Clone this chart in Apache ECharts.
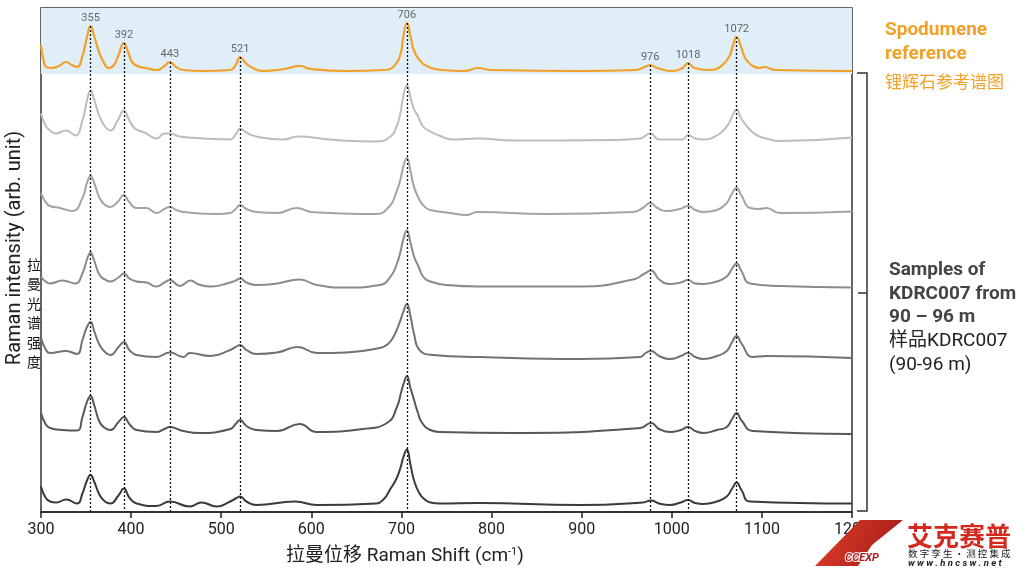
<!DOCTYPE html>
<html><head><meta charset="utf-8">
<script src="https://cdn.jsdelivr.net/npm/echarts@6/dist/echarts.min.js"></script>
<style>html,body{margin:0;padding:0;background:#fff}#c{width:1024px;height:576px}</style>
</head><body><div id="c"></div>
<script>
// ---- data (Raman shift in cm-1, intensity in arb. units above each trace's own baseline) ----
const xTicks = [300, 400, 500, 600, 700, 800, 900, 1000, 1100, 1200];
const peakShifts = [355, 392, 443, 521, 706, 976, 1018, 1072];

const referenceSpectrum = [
[300,26],[303,10],[306,4],[312,3],[320,5],[328,9],[334,6],[340,4],[346,15],[351,34],[355,45],[359,35],[364,20],[370,8],[375,3],[381,6],[386,16],[392,28],[397,18],[402,8],[410,4],[417,3],[428,1],[437,5],[443,9],[450,4],[458,1],[480,0],[510,1],[516,6],[521,14],[527,8],[535,3],[547,0],[570,2],[587,5],[600,2],[640,0],[680,1],[692,5],[699,17],[702,34],[706,48],[710,35],[714,20],[720,11],[728,5],[745,1],[770,0],[785,3],[800,1],[900,0],[960,1],[970,4],[976,6],[984,3],[1001,0],[1012,3],[1018,8],[1025,3],[1042,1],[1055,5],[1064,15],[1068,26],[1072,34],[1077,24],[1082,12],[1090,5],[1097,3],[1103,4],[1115,1],[1200,0]
];
const sample1 = [
[300,26],[305,14],[310,9],[316,6],[328,9],[338,4],[346,19],[351,39],[355,49],[359,40],[365,23],[371,13],[377,9],[385,19],[392,29],[397,21],[403,12],[408,9],[415,7],[428,1],[437,6],[443,6],[454,3],[480,1],[510,0],[516,5],[521,11],[528,7],[539,3],[569,0],[585,3],[620,0],[672,-2],[688,3],[695,14],[699,27],[702,43],[706,54],[710,42],[714,30],[718,24],[724,13],[732,8],[742,4],[757,0],[785,1],[824,-1],[935,-0.5],[965,1],[976,6],[986,0],[1012,0],[1018,4.5],[1026,1],[1035,0],[1050,4],[1061,13],[1067,23],[1072,30],[1077,21],[1087,9.5],[1095,4],[1105,1],[1120,-1.5],[1200,2]
];
const sample2 = [
[300,20],[305,11],[310,7],[321,5],[335,2],[346,15],[351,30],[355,37],[359,30],[365,15],[371,8],[377,6],[385,11],[392,18],[397,12],[406,5],[417,5],[428,0],[437,4],[443,6],[450,3],[458,1],[495,-1],[510,0],[516,4],[521,8],[528,4],[539,1],[562,0],[584,5],[600,1],[620,0],[672,-1],[687,7],[694,20],[699,34],[702,46],[706,55],[710,42],[714,26],[720,13],[726,6],[732,3],[754,0],[772,-2],[784,1],[861,-1],[957,1],[968,5],[976,10],[984,5],[994,2],[1009,4],[1018,7],[1026,3],[1035,1],[1050,3],[1061,10],[1066,18],[1072,25],[1077,18],[1087,5],[1097,4],[1105,5],[1120,0],[1200,1.5]
];
const sample3 = [
[300,10],[305,5],[310,3],[324,6],[338,3],[346,13],[351,27],[355,34],[359,26],[365,11.5],[371,7],[377,5],[386,9],[392,13],[398,8],[406,5],[417,4],[428,0],[437,4],[443,6.5],[454,0.5],[466,6],[475,2],[488,0],[510,4],[516,6],[521,8],[528,4],[539,1.5],[562,3],[587,7],[606,1.5],[639,-1],[676,1.5],[688,10],[695,23],[699,35],[702,47],[706,56],[710,44],[714,30],[719,20],[724,10],[732,5],[750,1.5],[787,0],[900,0],[957,7],[970,13],[977,16],[986,7],[998,2.5],[1010,4],[1018,6.5],[1026,3],[1035,2.5],[1050,5],[1061,10],[1067,18],[1072,23],[1077,16],[1087,3],[1120,0.5],[1200,-1]
];
const sample4 = [
[300,18],[305,7],[310,3],[328,5],[340,2],[346,16],[351,29],[355,34],[359,25],[365,11],[371,4],[377,1],[386,9],[392,14],[398,6],[406,1],[428,-1],[443,3.5],[458,-1],[465,3],[488,0],[510,6],[516,9],[521,11],[528,6],[539,2],[562,3.5],[585,9],[606,3],[639,3.5],[676,8],[685,12],[691,19],[697,31],[702,44],[706,52],[710,40],[714,22],[720,6],[735,1],[787,-1],[898,-3],[965,-1],[971,3],[977,5],[986,0],[998,-3],[1010,0],[1018,3],[1026,-1],[1035,-3],[1050,0],[1061,5],[1067,14],[1072,20],[1077,13],[1090,-1],[1105,0],[1200,-2]
];
const sample5 = [
[300,19],[305,8],[310,4],[324,2],[340,1.5],[346,15],[351,30],[355,36],[359,27],[365,10],[371,4],[377,2],[386,10],[392,15],[398,8],[406,2],[428,0],[437,3],[443,5],[458,1],[476,-1],[510,3],[516,8],[521,12],[528,6],[539,2],[562,1],[587,8],[606,0],[657,3],[684,9],[695,25],[700,41],[703,50],[706,56],[710,44],[714,32],[718,20],[723,9],[732,2],[743,0],[824,-1],[965,4],[977,9],[986,3],[998,0],[1010,2],[1018,5],[1026,1],[1035,-1],[1050,2],[1061,5],[1067,13],[1072,19],[1077,12],[1090,1],[1200,-2]
];
const sample6 = [
[300,18],[305,7],[310,3],[317,2],[328,5],[340,1],[346,11],[351,24],[355,29.5],[359,23],[365,9.5],[371,3],[377,1],[386,9],[392,16],[398,7],[406,1],[428,-1.5],[443,3],[465,-2],[478,2],[495,-2],[510,3],[516,6],[521,8],[528,3],[539,-0.5],[582,3],[606,-0.5],[672,1],[681,6],[687,14.5],[694,25],[699,37],[702,47],[706,55],[710,40],[714,24],[720,11],[726,5],[732,2],[743,1],[785,1.5],[898,-0.5],[968,2],[977,4],[986,1],[998,-0.5],[1010,2],[1018,4.5],[1026,1.5],[1035,0.5],[1050,3],[1061,8],[1067,16],[1072,22],[1077,15],[1087,3],[1200,1]
];
const sampleSpectra = [sample1, sample2, sample3, sample4, sample5, sample6];

// ---- layout / style ----
const referenceOffset = 441;
const sampleOffsets = [372.5, 299, 225.5, 156, 80, 7.5];
const sampleColors = ['#bdbdbd', '#a3a3a3', '#8a8a8a', '#727272', '#575757', '#3a3a3a'];
const orange = '#f2a126';
const yMax = 504;
const FONT = 'Roboto, "Noto Sans CJK SC", sans-serif';

const shift = (data, off) => data.map(p => [p[0], p[1] + off]);
const refShifted = shift(referenceSpectrum, referenceOffset);
const peakTops = peakShifts.map(s => {
  const p = refShifted.find(q => q[0] === s);
  return [s, p[1]];
});

const series = [];
sampleSpectra.forEach((d, i) => {
  series.push({
    type: 'line', data: shift(d, sampleOffsets[i]), showSymbol: false,
    smooth: 0.5, silent: true, z: 2,
    lineStyle: { color: sampleColors[i], width: 2 }
  });
});
series.push({
  type: 'line', data: refShifted, showSymbol: false, smooth: 0.5,
  silent: true, z: 3,
  lineStyle: { color: orange, width: 2.2 },
  markArea: {
    silent: true,
    itemStyle: { color: '#e0eef8' },
    data: [[{ xAxis: xTicks[0], yAxis: referenceOffset - 3 }, { xAxis: xTicks[xTicks.length - 1], yAxis: yMax }]]
  }
});
series.push({
  type: 'scatter', data: peakTops, symbolSize: 0, silent: true, z: 5,
  label: {
    show: true, position: 'top', distance: 2,
    formatter: p => String(p.value[0]),
    fontSize: 11, color: '#444', fontFamily: FONT
  },
  markLine: {
    silent: true, symbol: 'none', animation: false,
    label: { show: false },
    lineStyle: { type: [2, 2], color: '#111', width: 1.3 },
    data: peakTops.map(p => [{ coord: [p[0], p[1]] }, { coord: [p[0], 0] }])
  }
});

const chart = echarts.init(document.getElementById('c'), null, { renderer: 'canvas' });
chart.setOption({
  animation: false,
  backgroundColor: '#fff',
  grid: { left: 41, right: 172, top: 8, bottom: 64, show: true, borderColor: '#333', borderWidth: 1.5, backgroundColor: 'transparent', containLabel: false, outerBoundsMode: 'none' },
  xAxis: {
    type: 'value', min: xTicks[0], max: xTicks[xTicks.length - 1], interval: 100,
    axisLine: { show: true, lineStyle: { color: '#222', width: 1.5 } },
    axisTick: { show: true, inside: false, length: 6, lineStyle: { color: '#222', width: 1.5 } },
    axisLabel: { fontSize: 16, color: '#222', margin: 10, fontFamily: FONT, formatter: v => String(v) },
    splitLine: { show: false }
  },
  yAxis: { type: 'value', min: 0, max: yMax, show: false, splitLine: { show: false } },
  series: series,
  graphic: [
    { type: 'text', x: 15, y: 248, rotation: Math.PI / 2, z: 10,
      style: { text: 'Raman intensity (arb. unit)', font: '20px ' + FONT, fill: '#222', align: 'center', verticalAlign: 'middle' } },
    { type: 'text', x: 34, y: 313, z: 10,
      style: { text: '拉\n曼\n光\n谱\n强\n度', font: '14px "Noto Sans CJK SC"', lineHeight: 19.5, fill: '#111', align: 'center', verticalAlign: 'middle' } },
    { type: 'text', x: 405, y: 556, z: 10,
      style: { text: '{n|拉曼位移 Raman Shift (cm}{s|-1}{n|)}', align: 'center', verticalAlign: 'middle',
        rich: { n: { font: '19px ' + FONT, fill: '#222' }, s: { font: '11px ' + FONT, fill: '#222', verticalAlign: 'top' } } } },
    { type: 'text', x: 885, y: 42, z: 10,
      style: { text: 'Spodumene\nreference', font: 'bold 19px ' + FONT, lineHeight: 24, fill: orange, align: 'left', verticalAlign: 'middle' } },
    { type: 'text', x: 885, y: 82, z: 10,
      style: { text: '锂辉石参考谱图', font: '17px "Noto Sans CJK SC"', fill: orange, align: 'left', verticalAlign: 'middle' } },
    { type: 'text', x: 889, y: 294, z: 10,
      style: { text: 'Samples of\nKDRC007 from\n90 – 96 m', font: 'bold 19px ' + FONT, lineHeight: 23.5, fill: '#444', align: 'left', verticalAlign: 'middle' } },
    { type: 'text', x: 889, y: 353, z: 10,
      style: { text: '样品KDRC007\n(90-96 m)', font: '19px ' + FONT, lineHeight: 24, fill: '#222', align: 'left', verticalAlign: 'middle' } },
    { type: 'polyline', z: 10, shape: { points: [[857, 73], [867, 73], [867, 511], [857, 511]] }, style: { stroke: '#333', lineWidth: 1.5, fill: null } },
    { type: 'line', z: 10, shape: { x1: 858, y1: 293, x2: 867, y2: 293 }, style: { stroke: '#333', lineWidth: 1.5 } },
    // watermark logo
    { type: 'polygon', z: 20, shape: { points: [[815, 566], [860, 520], [903, 520], [872, 545], [858, 566]] },
      style: { fill: new echarts.graphic.LinearGradient(0, 0, 1, 1, [{ offset: 0, color: '#e0402a' }, { offset: 1, color: '#a01818' }]) } },
    { type: 'text', x: 862, y: 558, z: 21,
      style: { text: 'CCEXP', font: 'italic bold 11px ' + FONT, fill: '#b31a1a', align: 'center', verticalAlign: 'middle', stroke: '#fff', lineWidth: 2 } },
    { type: 'text', x: 907, y: 536, z: 21,
      style: { text: '艾克赛普', font: 'bold 26px "Noto Sans CJK SC"', fill: '#d42a1e', align: 'left', verticalAlign: 'middle' } },
    { type: 'text', x: 908, y: 553, z: 21,
      style: { text: '数 字 孪 生 · 测 控 集 成', font: '9.5px "Noto Sans CJK SC"', fill: '#222', align: 'left', verticalAlign: 'middle' } },
    { type: 'text', x: 908, y: 564, z: 21,
      style: { text: 'w w w . h n c s w . n e t', font: 'italic bold 9.5px ' + FONT, fill: '#222', align: 'left', verticalAlign: 'middle' } }
  ]
});
</script>
</body></html>
